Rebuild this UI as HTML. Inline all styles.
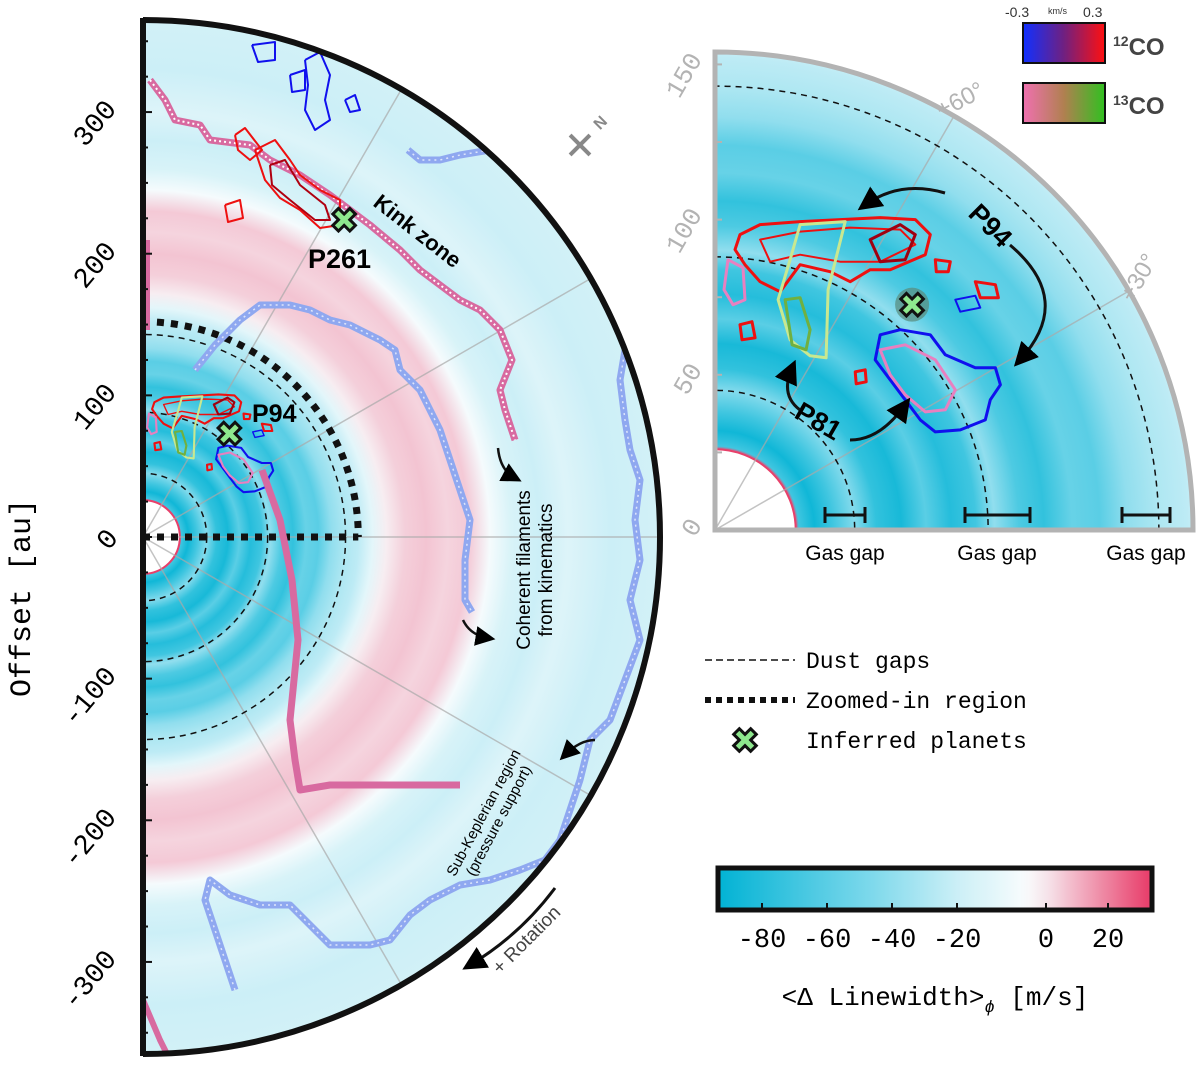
<!DOCTYPE html>
<html><head><meta charset="utf-8"><style>
html,body{margin:0;padding:0;background:#fff}
svg{display:block}
text{font-family:"Liberation Sans",sans-serif}
.mono{font-family:"Liberation Mono","DejaVu Sans Mono",monospace}
</style></head><body>
<svg id="fig" width="1200" height="1066" viewBox="0 0 1200 1066" xmlns="http://www.w3.org/2000/svg">
<defs>
<clipPath id="clipL"><path d="M143,20 A517,517 0 0 1 143,1054 Z"/></clipPath>
<clipPath id="clipR"><path d="M715,530 L715,52 A478,478 0 0 1 1193,530 Z"/></clipPath>
<linearGradient id="g12" x1="0" x2="1"><stop offset="0" stop-color="#1030ff"/><stop offset="0.5" stop-color="#702080"/><stop offset="1" stop-color="#ff1010"/></linearGradient>
<linearGradient id="g13" x1="0" x2="1"><stop offset="0" stop-color="#f070b0"/><stop offset="0.5" stop-color="#b08050"/><stop offset="1" stop-color="#30c020"/></linearGradient>
<linearGradient id="gcb" x1="0" x2="1"></linearGradient>
<marker id="ah" markerWidth="8" markerHeight="8" refX="5" refY="4" orient="auto"><path d="M0,0 L8,4 L0,8 Z" fill="#000"/></marker>
</defs>
<g id="leftPanel"></g>
<g id="rightPanel"></g>
<g id="overlay"></g>
</svg>
<script>
// ---- data ----
const ringRadii = [0, 26, 27, 32, 38, 45, 52, 60, 68, 76, 84, 90, 98, 106, 115, 124, 133, 143, 152, 162, 172, 185, 200, 215, 230, 245, 260, 280, 300, 330, 365];
const ringValues = [30, 30, -70, -88, -70, -45, -75, -85, -60, -80, -70, -40, -65, -75, -55, -60, -40, -30, -25, -12, -2, 4, 6, 3, 5, -6, -16, -20, -14, -20, -18];
const gapRadii = [45, 88, 143];
const zoomRadius = 152;
const yTicksLeft = [300, 200, 100, 0, -100, -200, -300];
const yTicksRight = [150, 100, 50, 0];
const cbTicks = [-80, -60, -40, -20, 0, 20];
const cbTickLabels = ["-80", "-60", "-40", "-20", "0", "20"];
const cbMin = -94, cbMax = 33;
const planets = [{name:"P261", x:142, y:-224}, {name:"P94", x:61, y:73}, {name:"P81", x:63.5, y:72.6}];

const NS = "http://www.w3.org/2000/svg";
const svg = document.getElementById('fig');
function el(tag, attrs, parent, txt){const e=document.createElementNS(NS,tag);for(const k in attrs)e.setAttribute(k,attrs[k]);if(txt!==undefined)e.textContent=txt;(parent||svg).appendChild(e);return e;}
function cmap(v){
  const cy=[0,178,212], mid=[130,218,236], w=[248,252,253], pk=[232,60,105];
  function mix(a,b,t){return 'rgb('+a.map((x,i)=>Math.round(x+(b[i]-x)*t)).join(',')+')';}
  if(v<=-45) return mix(cy,mid,(v+94)/49);
  if(v<=-5) return mix(mid,w,(v+45)/40);
  return mix(w,pk,Math.min(1,(v+5)/38));
}
function cbX(v){ return v<=-20 ? 762+(v+80)*65/20 : (v<=0 ? 957+(v+20)*89/20 : 1046+v*62/20); }
const cbg=document.getElementById('gcb');
for(let v=cbMin; v<=cbMax; v+=2){const s=document.createElementNS(NS,'stop');s.setAttribute('offset',((cbX(v)-718)/432).toFixed(3));s.setAttribute('stop-color',cmap(v));cbg.appendChild(s);}

function radialGrad(id, R){
  const g=el('radialGradient',{id:id,gradientUnits:'userSpaceOnUse',cx:0,cy:0,r:R},svg.querySelector('defs'));
  const rmax=ringRadii[ringRadii.length-1];
  ringRadii.forEach((r,i)=>el('stop',{offset:(r/rmax).toFixed(4),'stop-color':cmap(ringValues[i])},g));
}
const cR = {x:715,y:530,s:3.1};
function toAU(pts){return pts.map(p=>[(p[0]-cR.x)/cR.s,(cR.y-p[1])/cR.s]);}
const contours=[
 {c:'#ee1010',w:3,p:toAU([[740,235],[760,225],[800,222],[840,220],[880,218],[915,220],[930,235],[925,255],[890,270],[870,270],[850,282],[830,272],[800,265],[780,292],[760,282],[745,265],[735,250]])},
 {c:'#ee1010',w:2,p:toAU([[760,240],[800,232],[850,228],[900,230],[915,245],[880,262],[840,262],[800,255],[770,262]])},
 {c:'#a00010',w:3,p:toAU([[870,240],[900,225],[915,235],[905,260],[880,262]])},
 {c:'#1010ee',w:3,p:toAU([[880,335],[900,330],[930,335],[945,355],[975,368],[995,368],[1000,385],[990,400],[985,420],[960,430],[935,432],[920,420],[905,400],[890,380],[875,360]])},
 {c:'#1010ee',w:2,p:toAU([[955,300],[975,296],[980,308],[960,312]])},
 {c:'#e880c0',w:3,p:toAU([[880,350],[905,345],[935,360],[955,390],[945,410],[925,412],[905,395],[890,375]])},
 {c:'#c8e890',w:3,p:toAU([[800,225],[845,222],[828,290],[826,358],[810,356],[790,340],[778,300],[790,260]])},
 {c:'#70b040',w:3,p:toAU([[785,300],[800,298],[810,330],[806,350],[792,345]])},
 {c:'#e880c0',w:3,p:toAU([[728,260],[743,268],[745,300],[733,305],[724,290]])},
 {c:'#ee1010',w:3,p:toAU([[935,260],[950,262],[948,272],[936,272]])},
 {c:'#ee1010',w:3,p:toAU([[975,282],[995,285],[998,298],[980,298]])},
 {c:'#ee1010',w:3,p:toAU([[740,325],[752,322],[755,338],[742,340]])},
 {c:'#ee1010',w:3,p:toAU([[855,372],[865,370],[866,382],[856,384]])}
];

function drawPanel(group, cx, cy, s, R, clip, isLeft){
  const gid='rg'+(isLeft?'L':'R');
  radialGrad(gid, ringRadii[ringRadii.length-1]*s);
  const g=el('g',{'clip-path':'url(#'+clip+')'},group);
  const gg=el('g',{transform:'translate('+cx+','+cy+')'},g);
  const b2=el('circle',{cx:0,cy:0,r:R+5,fill:'url(#'+gid+')'},gg);
  
  
  const hole=el('circle',{cx:cx,cy:cy,r:26*s,fill:'#fff',stroke:'#e8406a','stroke-width':2},g);
  
  
  const angs = isLeft?[30,60,90,120,150]:[30,60];
  angs.forEach(a=>{const t=a*Math.PI/180;el('line',{x1:cx,y1:cy,x2:cx+R*Math.sin(t),y2:cy-R*Math.cos(t),stroke:'#aaa','stroke-width':1.5,opacity:0.7},g);});
  gapRadii.forEach(r=>{const c=el('circle',{cx:cx,cy:cy,r:r*s,fill:'none',stroke:'#111','stroke-width':1.5,'stroke-dasharray':'6,5'},g);
    
    });
  if(isLeft){
    const z=zoomRadius*s;
    const zp=el('path',{d:`M${cx},${cy-z} A${z},${z} 0 0 1 ${cx+z},${cy}`,fill:'none',stroke:'#111','stroke-width':7,'stroke-dasharray':'7,7'},g);
    
    
    el('line',{x1:cx,y1:cy,x2:cx+z,y2:cy,stroke:'#111','stroke-width':7,'stroke-dasharray':'7,7'},g);
  }
  contours.forEach(c=>{
    const pts=c.p.map(p=>(cx+p[0]*s).toFixed(1)+','+(cy-p[1]*s).toFixed(1)).join(' ');
    const pg=el('polygon',{points:pts,fill:'none',stroke:c.c,'stroke-width':isLeft?c.w*0.7:c.w,'stroke-linejoin':'round'},g);
    
    
  });
  return g;
}

const L=document.getElementById('leftPanel'), Rp=document.getElementById('rightPanel');
const sL=517/365, sR=478/154;
const gL=drawPanel(L,143,537,sL,517,'clipL',true);
const gR=drawPanel(Rp,715,530,sR,478,'clipR',false);

function pl(pts,attrs,parent,name){const e=el('polyline',Object.assign({points:pts,fill:'none','stroke-linejoin':'round'},attrs),parent);return e;}
const pinkPts="150,80 165,100 175,120 200,125 210,140 250,145 270,160 300,175 330,195 350,210 370,225 400,250 420,270 440,285 460,300 480,310 500,330 512,360 500,390 505,410 515,440";
pl(pinkPts,{stroke:'#d86aa0','stroke-width':7},gL,'pink-filament');
pl(pinkPts,{stroke:'#fff','stroke-width':2,'stroke-dasharray':'2,3'},gL,'pink-filament-core');
pl("262,470 280,520 292,580 298,640 290,720 295,760 300,790 330,785 400,785 460,785",{stroke:'#d86aa0','stroke-width':7},gL,'pink-filament-lower');
pl("146,240 146,330",{stroke:'#d86aa0','stroke-width':8},gL,'pink-filament-edge');
pl("143,1000 160,1040 170,1060",{stroke:'#d86aa0','stroke-width':6},gL,'pink-filament-bottom');
const bi="195,370 215,345 240,320 260,305 290,305 310,310 330,320 350,325 380,340 395,350 400,370 420,390 430,410 440,430 450,460 460,490 470,520 465,560 465,600 472,612";
pl(bi,{stroke:'#8fa8f0','stroke-width':7},gL,'blue-filament-inner');
pl(bi,{stroke:'#fff','stroke-width':1.5,'stroke-dasharray':'2,4',opacity:0.7},gL,'blue-filament-inner-core');
const bo="408,150 420,160 440,160 460,155 490,150 540,160 560,170 580,180 590,200 600,230 610,260 620,280 630,310 625,350 620,380 625,420 630,450 640,480 635,520 640,560 630,600 640,640 625,680 610,720 590,740 580,780 570,810 560,840 545,860 520,870 490,880 460,885 430,900 410,915 390,940 370,945 330,945 310,925 290,905 260,905 230,895 210,880 205,900 215,930 225,960 235,990";
pl(bo,{stroke:'#8fa8f0','stroke-width':7},gL,'blue-filament-outer');
pl(bo,{stroke:'#fff','stroke-width':1.5,'stroke-dasharray':'2,4',opacity:0.7},gL,'blue-filament-outer-core');
pl("252,45 275,42 275,60 258,62 252,45",{stroke:'#1010ee','stroke-width':2},gL,'blue-contour');
pl("305,60 320,52 330,75 325,100 330,120 315,130 305,110 308,85 305,60",{stroke:'#1010ee','stroke-width':2},gL,'blue-contour');
pl("290,75 305,70 305,90 292,92 290,75",{stroke:'#1010ee','stroke-width':2},gL,'blue-contour');
pl("345,100 355,95 360,110 350,112 345,100",{stroke:'#1010ee','stroke-width':2},gL,'blue-contour');
pl("235,135 245,128 262,150 250,160 238,150 235,135",{stroke:'#ee1010','stroke-width':2},gL,'red-contour');
pl("255,150 275,140 290,160 300,175 320,190 340,200 340,225 320,228 300,210 280,198 265,180 255,150",{stroke:'#ee1010','stroke-width':2},gL,'red-contour');
pl("270,165 285,160 300,185 325,205 330,220 315,220 290,200 272,185 270,165",{stroke:'#b00010','stroke-width':2},gL,'red-contour');
pl("225,205 240,200 243,218 228,222 225,205",{stroke:'#ee1010','stroke-width':2},gL,'red-contour');

const bl=el('path',{d:'M143,20 A517,517 0 0 1 143,1054',fill:'none',stroke:'#111','stroke-width':6},L);


el('line',{x1:143,y1:18,x2:143,y2:1056,stroke:'#111','stroke-width':6},L);
for(let v=-350;v<=350;v+=25){const y=537-v*sL;el('line',{x1:143,y1:y,x2:v%100===0?152:148,y2:y,stroke:'#111','stroke-width':2},L);}
yTicksLeft.forEach(v=>{const y=537-v*sL;
  const t=el('text',{x:115,y:y+8,'font-size':28,'text-anchor':'end',class:'mono',transform:`rotate(-50 ${v===0?110:105} ${y})`},L,String(v));
  
  });
const yt=el('text',{x:0,y:0,'font-size':30,'text-anchor':'middle',class:'mono',transform:'translate(30,598) rotate(-90)'},L,'Offset [au]');



const br=el('path',{d:'M715,52 A478,478 0 0 1 1193,530 L715,530 Z',fill:'none',stroke:'#b3b3b3','stroke-width':5},Rp);


for(let v=0;v<=150;v+=25){const y=530-v*sR;el('line',{x1:715,y1:y,x2:722,y2:y,stroke:'#b3b3b3','stroke-width':2},Rp);}
yTicksRight.forEach(v=>{const y=530-v*sR;
  const t=el('text',{x:700,y:y+10,'font-size':26,fill:'#b3b3b3','text-anchor':'end',class:'mono',transform:`rotate(-60 688 ${y})`},Rp,String(v));
  
  });
el('text',{x:935,y:108,'font-size':24,fill:'#b3b3b3',transform:'rotate(-28 960 100)'},Rp,'+60°');
el('text',{x:1112,y:283,'font-size':24,fill:'#b3b3b3',transform:'rotate(-60 1140 275)'},Rp,'+30°');
[[825,865,845],[965,1030,997],[1122,1170,1146]].forEach(g=>{
  const gr=el('g',{},Rp);
  el('line',{x1:g[0],y1:515,x2:g[1],y2:515,stroke:'#111','stroke-width':3},gr);
  el('line',{x1:g[0],y1:507,x2:g[0],y2:523,stroke:'#111','stroke-width':3},gr);
  el('line',{x1:g[1],y1:507,x2:g[1],y2:523,stroke:'#111','stroke-width':3},gr);
  el('text',{x:g[2],y:560,'font-size':21,'text-anchor':'middle'},gr,'Gas gap');
});

function xMark(x,y,sz,parent){
  const g=el('g',{transform:`translate(${x},${y}) rotate(45)`},parent);
  
  
  el('path',{d:`M${-sz/3},${-sz} h${2*sz/3} v${2*sz/3} h${2*sz/3} v${2*sz/3} h${-2*sz/3} v${2*sz/3} h${-2*sz/3} v${-2*sz/3} h${-2*sz/3} v${-2*sz/3} h${2*sz/3} Z`,fill:'#8ee88e',stroke:'#111','stroke-width':3},g);
  return g;
}
const O=document.getElementById('overlay');
xMark(143+planets[0].x*sL, 537+planets[0].y*sL, 12, O);
xMark(143+planets[1].x*sL, 537-planets[1].y*sL, 12, O);
el('circle',{cx:715+planets[2].x*sR,cy:530-planets[2].y*sR,r:17,fill:'#5a8a7a',opacity:0.7},O);
xMark(715+planets[2].x*sR, 530-planets[2].y*sR, 12, O);
el('text',{x:308,y:268,'font-size':27,'font-weight':'bold'},O,'P261');
el('text',{x:252,y:422,'font-size':25,'font-weight':'bold'},O,'P94');
el('text',{x:0,y:0,'font-size':22,'font-weight':'bold',transform:'translate(372,205) rotate(38)'},O,'Kink zone');
el('text',{x:0,y:0,'font-size':27,'font-weight':'bold',transform:'translate(967,215) rotate(45)'},O,'P94');
el('text',{x:0,y:0,'font-size':27,'font-weight':'bold',transform:'translate(793,417) rotate(30)'},O,'P81');
el('path',{d:'M1010,245 Q1075,300 1020,360',fill:'none',stroke:'#111','stroke-width':3,'marker-end':'url(#ah)'},O);
el('path',{d:'M945,193 Q900,180 865,205',fill:'none',stroke:'#111','stroke-width':3,'marker-end':'url(#ah)'},O);
el('path',{d:'M800,410 Q780,395 792,368',fill:'none',stroke:'#111','stroke-width':3,'marker-end':'url(#ah)'},O);
el('path',{d:'M850,440 Q880,440 905,405',fill:'none',stroke:'#111','stroke-width':3,'marker-end':'url(#ah)'},O);
el('path',{d:'M498,448 Q500,470 515,478',fill:'none',stroke:'#111','stroke-width':2.5,'marker-end':'url(#ah)'},O);
el('path',{d:'M463,620 Q470,635 488,638',fill:'none',stroke:'#111','stroke-width':2.5,'marker-end':'url(#ah)'},O);
el('path',{d:'M595,740 Q580,740 565,755',fill:'none',stroke:'#111','stroke-width':2.5,'marker-end':'url(#ah)'},O);
const cf=el('text',{x:0,y:0,'font-size':19,'text-anchor':'middle',transform:'translate(530,570) rotate(-90)'},O);

el('tspan',{x:0,dy:0},cf,'Coherent filaments');
el('tspan',{x:0,dy:22},cf,'from kinematics');
const sk=el('text',{x:0,y:0,'font-size':15,'text-anchor':'middle',transform:'translate(488,815) rotate(-62)'},O);

el('tspan',{x:0,dy:0},sk,'Sub-Keplerian region');
el('tspan',{x:0,dy:17},sk,'(pressure support)');
el('path',{d:'M555,888 Q520,935 470,965',fill:'none',stroke:'#111','stroke-width':3,'marker-end':'url(#ah)'},O);
el('text',{x:0,y:0,'font-size':19,fill:'#444',transform:'translate(500,975) rotate(-45)'},O,'+ Rotation');
const cp=el('g',{transform:'translate(580,145) rotate(-45)',stroke:'#888','stroke-width':4,fill:'none'},O);

el('line',{x1:-14,y1:0,x2:14,y2:0},cp);el('line',{x1:0,y1:-14,x2:0,y2:14},cp);
el('text',{x:594,y:128,'font-size':16,'font-weight':'bold',fill:'#888',transform:'rotate(-45 600 122)'},O,'N');

const lg=el('g',{},O);
el('line',{x1:705,y1:660,x2:795,y2:660,stroke:'#111','stroke-width':1.5,'stroke-dasharray':'7,4'},lg);
el('text',{x:806,y:668,'font-size':23,class:'mono'},lg,'Dust gaps');
el('line',{x1:705,y1:700,x2:795,y2:700,stroke:'#111','stroke-width':6,'stroke-dasharray':'6,5'},lg);
el('text',{x:806,y:708,'font-size':23,class:'mono'},lg,'Zoomed-in region');
xMark(745,740,12,lg);
el('text',{x:806,y:748,'font-size':23,class:'mono'},lg,'Inferred planets');

const ck=el('g',{},O);
el('rect',{x:1023,y:23,width:82,height:40,fill:'url(#g12)',stroke:'#111','stroke-width':2},ck);
el('rect',{x:1023,y:83,width:82,height:40,fill:'url(#g13)',stroke:'#111','stroke-width':2},ck);
el('text',{x:1005,y:17,'font-size':14,fill:'#333'},ck,'-0.3');
el('text',{x:1048,y:14,'font-size':9,fill:'#333'},ck,'km/s');
el('text',{x:1083,y:17,'font-size':14,fill:'#333'},ck,'0.3');
const t12=el('text',{x:1113,y:55,'font-size':24,'font-weight':'bold',fill:'#444'},ck);
el('tspan',{'font-size':14,dy:-9},t12,'12');el('tspan',{dy:9},t12,'CO');
const t13=el('text',{x:1113,y:114,'font-size':24,'font-weight':'bold',fill:'#444'},ck);
el('tspan',{'font-size':14,dy:-9},t13,'13');el('tspan',{dy:9},t13,'CO');

const cb=el('g',{},O);
el('rect',{x:718,y:868,width:434,height:42,fill:'url(#gcb)',stroke:'#111','stroke-width':5},cb);
cbTicks.forEach((v,i)=>{const x=cbX(v);
  el('line',{x1:x,y1:903,x2:x,y2:910,stroke:'#111','stroke-width':2},cb);
  const t=el('text',{x:x,y:947,'font-size':27,'text-anchor':'middle',class:'mono'},cb,cbTickLabels[i]);
  
  });
const ct=el('text',{x:935,y:1005,'font-size':26,'text-anchor':'middle',class:'mono'},cb);

el('tspan',{},ct,'<Δ Linewidth>');el('tspan',{'font-size':17,dy:7,'font-style':'italic'},ct,'ϕ');el('tspan',{dy:-7},ct,' [m/s]');
</script>
</body></html>
